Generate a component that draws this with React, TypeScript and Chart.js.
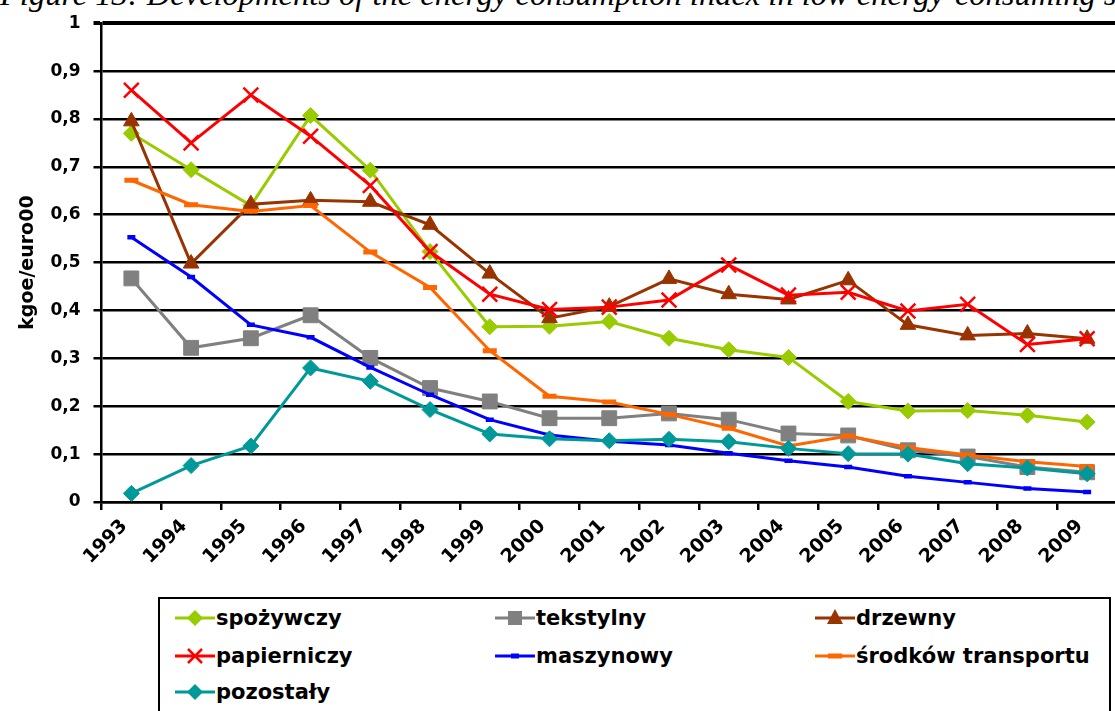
import React, { useEffect, useRef } from "react";
import { Chart, registerables } from "chart.js";

Chart.register(...registerables);

const years = ["1993","1994","1995","1996","1997","1998","1999","2000","2001","2002","2003","2004","2005","2006","2007","2008","2009"];
const yTickLabels = ["0","0,1","0,2","0,3","0,4","0,5","0,6","0,7","0,8","0,9","1"];

const spozywczy = [0.770, 0.694, 0.619, 0.807, 0.693, 0.523, 0.366, 0.367, 0.377, 0.342, 0.318, 0.302, 0.210, 0.190, 0.191, 0.181, 0.167];
const tekstylny = [0.467, 0.322, 0.342, 0.390, 0.301, 0.238, 0.210, 0.175, 0.175, 0.185, 0.172, 0.143, 0.139, 0.108, 0.095, 0.073, 0.062];
const drzewny = [0.795, 0.498, 0.622, 0.630, 0.627, 0.579, 0.477, 0.384, 0.408, 0.466, 0.434, 0.423, 0.463, 0.370, 0.348, 0.352, 0.341];
const papierniczy = [0.860, 0.750, 0.850, 0.764, 0.661, 0.523, 0.434, 0.402, 0.407, 0.422, 0.495, 0.432, 0.438, 0.399, 0.413, 0.329, 0.341];
const maszynowy = [0.553, 0.470, 0.370, 0.344, 0.281, 0.224, 0.172, 0.140, 0.127, 0.119, 0.102, 0.086, 0.073, 0.054, 0.041, 0.028, 0.021];
const srodkowTransportu = [0.672, 0.621, 0.607, 0.619, 0.522, 0.448, 0.316, 0.221, 0.209, 0.183, 0.154, 0.117, 0.138, 0.114, 0.098, 0.084, 0.074];
const pozostaly = [0.018, 0.076, 0.117, 0.280, 0.252, 0.193, 0.142, 0.132, 0.128, 0.131, 0.126, 0.112, 0.101, 0.100, 0.080, 0.071, 0.059];

const seriesNames = ["spożywczy", "tekstylny", "drzewny", "papierniczy", "maszynowy", "środków transportu", "pozostały"];
const titleText = "Figure 13: Developments of the energy consumption index in low energy-consuming sectors";
const yTitle = "kgoe/euro00";

const FONT = "'DejaVu Sans', sans-serif";

const CANVAS_W = 1130;
const CANVAS_H = 597;

type Style = { color: string; point: any; radius: number; pbw: number };
const styles: Style[] = [
  { color: "#99CC00", point: "rectRot", radius: 8, pbw: 1 },
  { color: "#808080", point: "rect", radius: 10.5, pbw: 1 },
  { color: "#993300", point: "triangle", radius: 9, pbw: 1 },
  { color: "#FF0000", point: "crossRot", radius: 10.5, pbw: 2.5 },
  { color: "#0000FF", point: "line", radius: 4, pbw: 4.5 },
  { color: "#FF6600", point: "line", radius: 7, pbw: 5 },
  { color: "#009999", point: "rectRot", radius: 8, pbw: 1 },
];

function Marker({ idx }: { idx: number }) {
  const c = styles[idx].color;
  let m: any = null;
  switch (idx) {
    case 0:
    case 6:
      m = <polygon points="20,2 28,10 20,18 12,10" fill={c} />;
      break;
    case 1:
      m = <rect x={13} y={3} width={14} height={14} fill={c} />;
      break;
    case 2:
      m = <polygon points="20,1 28,16 12,16" fill={c} />;
      break;
    case 3:
      m = (
        <g stroke={c} strokeWidth={2.5}>
          <line x1={13} y1={3} x2={27} y2={17} />
          <line x1={27} y1={3} x2={13} y2={17} />
        </g>
      );
      break;
    case 4:
      m = <rect x={16} y={7.5} width={8} height={5} fill={c} />;
      break;
    case 5:
      m = <rect x={13} y={7.5} width={14} height={5} fill={c} />;
      break;
  }
  return (
    <svg width={40} height={20} style={{ display: "block" }}>
      <line x1={0} y1={10} x2={40} y2={10} stroke={c} strokeWidth={3} />
      {m}
    </svg>
  );
}

export default function App() {
  const ref = useRef<HTMLCanvasElement | null>(null);

  useEffect(() => {
    if (!ref.current) return;
    const values = [spozywczy, tekstylny, drzewny, papierniczy, maszynowy, srodkowTransportu, pozostaly];
    const datasets = values.map((v, i) => ({
      label: seriesNames[i],
      data: v,
      borderColor: styles[i].color,
      backgroundColor: styles[i].color,
      borderWidth: 3,
      pointStyle: styles[i].point,
      pointRadius: styles[i].radius,
      pointBorderWidth: styles[i].pbw,
      pointBackgroundColor: styles[i].color,
      pointBorderColor: styles[i].color,
      tension: 0,
      order: 6 - i,
    }));
    const chart = new Chart(ref.current, {
      type: "line",
      data: { labels: years, datasets },
      options: {
        animation: false,
        responsive: false,
        layout: { padding: { left: 0, right: CANVAS_W - 1125, top: 19, bottom: 0 } },
        plugins: { legend: { display: false }, tooltip: { enabled: false }, title: { display: false } },
        scales: {
          x: {
            type: "category",
            offset: true,
            grid: {
              offset: true,
              drawOnChartArea: false,
              drawTicks: true,
              tickLength: 8,
              color: "#000",
              lineWidth: 2.5,
            },
            border: { display: true, color: "#000", width: 2.5 },
            ticks: {
              autoSkip: false,
              minRotation: 45,
              maxRotation: 45,
              padding: 5,
              labelOffset: -7,
              color: "#000",
              font: { family: FONT, size: 19, weight: "bold" },
            },
            afterFit: (scale: any) => {
              scale.height = CANVAS_H - 502;
            },
          },
          y: {
            min: 0,
            max: 1,
            ticks: {
              stepSize: 0.1,
              padding: 13,
              color: "#000",
              font: { family: FONT, size: 17, weight: "bold" },
              callback: (_v: any, i: number) => yTickLabels[i],
            },
            grid: {
              color: "#000",
              lineWidth: (ctx: any) => (ctx.tick && Math.abs(ctx.tick.value - 1) < 1e-6 ? 4 : 2.5),
              tickLength: 8,
              drawTicks: true,
            },
            border: { display: true, color: "#000", width: 2.5 },
            title: {
              display: true,
              text: yTitle,
              color: "#000",
              font: { family: FONT, size: 19, weight: "bold", lineHeight: 1.2 },
              padding: { top: 17, bottom: 0 },
            },
            afterFit: (scale: any) => {
              scale.width = 101.5;
            },
          },
        },
      },
    });
    return () => chart.destroy();
  }, []);

  const legendCols = [175, 495, 815];
  const legendRows = [618, 656, 692];

  return (
    <div style={{ position: "fixed", left: 0, top: 0, width: 1115, height: 711, overflow: "hidden", background: "#fff" }}>
      <div
        style={{
          position: "absolute",
          left: 0,
          top: -23,
          whiteSpace: "nowrap",
          fontFamily: "'Liberation Serif', serif",
          fontStyle: "italic",
          fontSize: 32.5,
          lineHeight: "34px",
          color: "#000",
        }}
      >
        {titleText}
      </div>
      <canvas ref={ref} width={CANVAS_W} height={CANVAS_H} style={{ position: "absolute", left: 0, top: 0, width: CANVAS_W, height: CANVAS_H }} />
      <div
        style={{
          position: "absolute",
          left: 158,
          top: 597,
          width: 953,
          height: 140,
          border: "2px solid #000",
          boxSizing: "border-box",
        }}
      />
      {seriesNames.map((name, i) => {
        const col = i % 3;
        const row = Math.floor(i / 3);
        return (
          <div
            key={name}
            style={{
              position: "absolute",
              left: legendCols[col],
              top: legendRows[row] - 14,
              height: 28,
              display: "flex",
              alignItems: "center",
              whiteSpace: "nowrap",
            }}
          >
            <Marker idx={i} />
            <span style={{ fontFamily: FONT, fontWeight: "bold", fontSize: 21, color: "#000", marginLeft: 1, lineHeight: "28px" }}>
              {name}
            </span>
          </div>
        );
      })}
    </div>
  );
}
